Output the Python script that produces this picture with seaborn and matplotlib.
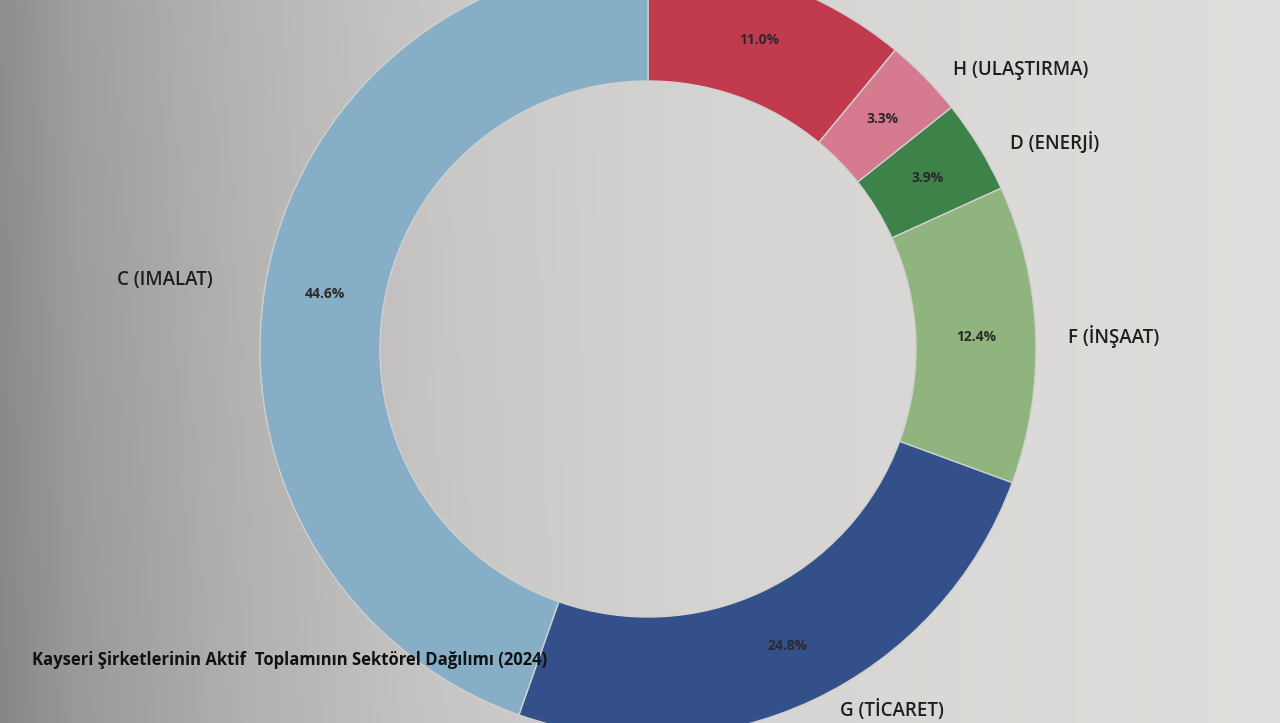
import numpy as np
import matplotlib
matplotlib.use("Agg")
import matplotlib.pyplot as plt
import seaborn as sns

# ---- data ----
categories = ["", "H (ULAŞTIRMA)", "D (ENERJİ)", "F (İNŞAAT)", "G (TİCARET)", "C (IMALAT)"]
shares = [11.0, 3.3, 3.9, 12.4, 24.8, 44.6]
slice_colors = ["#c23a4e", "#d67a90", "#3d8249", "#8fb47e", "#33508a", "#86aec6"]
title_text = "Kayseri Şirketlerinin Aktif  Toplamının Sektörel Dağılımı (2024)"

# label nudges (pixels, right / down) to follow the reference layout
label_nudge = [(0, 0), (40, 47), (10, 37), (0, 5), (46, -60), (-24, 10)]

sns.set_theme(style="white")
plt.rcParams["font.family"] = ["Open Sans", "DejaVu Sans"]

W, H = 1280, 723
fig = plt.figure(figsize=(W / 100, H / 100), dpi=100)

# photographic grey background (darker on the left)
bg = fig.add_axes([0, 0, 1, 1])
xs = np.linspace(0, 1, 512)
ys = np.linspace(0, 1, 128)
X, Y = np.meshgrid(xs, ys)
lum = np.interp(X, [0.0, 0.06, 0.2, 0.35, 0.55, 0.8, 1.0],
                [0.56, 0.63, 0.72, 0.79, 0.835, 0.86, 0.875])
lum = lum - 0.03 * (1 - Y) * np.clip(1 - X / 0.5, 0, 1)
rgb = np.stack([lum * 1.0, lum * 0.995, lum * 0.985], axis=-1)
bg.imshow(np.clip(rgb, 0, 1), aspect="auto", extent=[0, 1, 0, 1], origin="lower",
          interpolation="bilinear")
bg.axis("off")

ax = fig.add_axes([0, 0, 1, 1])
ax.patch.set_alpha(0)
palette = sns.color_palette(slice_colors)

cx, cy = 648, H - 349
R = 388
ring = 120

wedges, texts, autotexts = ax.pie(
    shares,
    labels=categories,
    colors=palette,
    startangle=90,
    counterclock=False,
    center=(cx, cy),
    radius=R,
    labeldistance=1.2,
    autopct="%.1f%%",
    pctdistance=1 - ring / 2 / R,
    wedgeprops=dict(width=ring, edgecolor="#d0d0d0", linewidth=1),
    textprops=dict(color="#222222"),
)
for t, (dx, dy) in zip(texts, label_nudge):
    x, y = t.get_position()
    t.set_position((x + dx, y - dy))
    t.set_ha("center")
    t.set_va("center")
    t.set_fontsize(13.5)
    t.set_fontweight("semibold")
    t.set_color("#1e1e1e")
for t in autotexts:
    t.set_fontsize(10)
    t.set_fontweight("bold")
    t.set_color("#2a2a2a")

ax.set_xlim(0, W)
ax.set_ylim(0, H)
ax.set_aspect("equal")
ax.axis("off")

fig.text(32 / W, 1 - 660 / H, title_text, ha="left", va="center",
         fontsize=12, fontweight="bold", color="#111111")

fig.savefig("out.png", dpi=100)
